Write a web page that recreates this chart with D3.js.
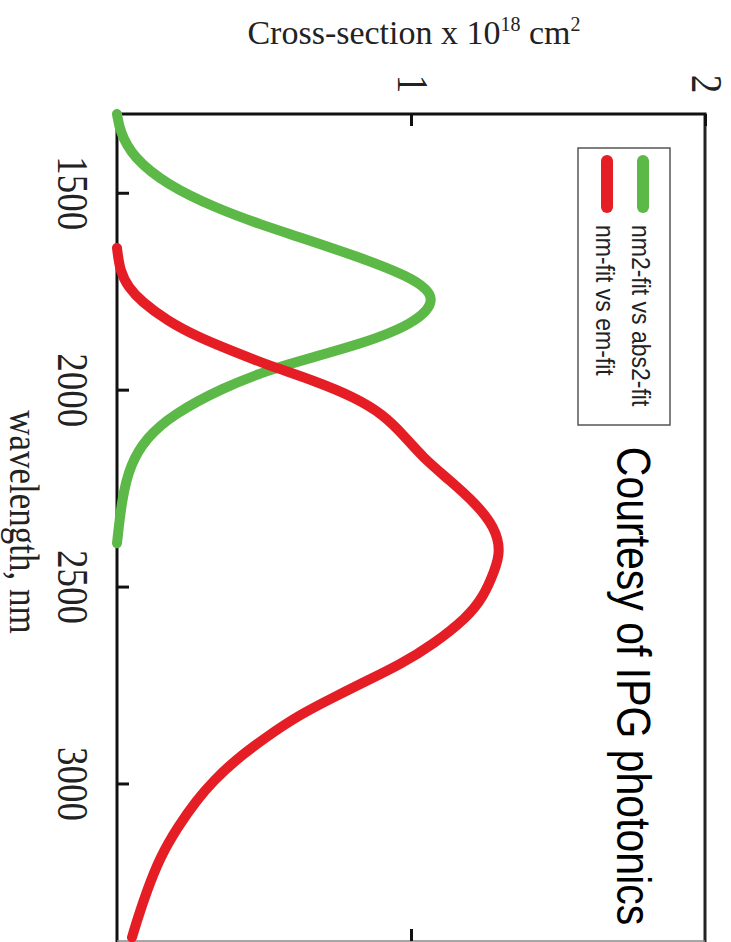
<!DOCTYPE html>
<html>
<head>
<meta charset="utf-8">
<script src="https://cdn.jsdelivr.net/npm/d3@7"></script>
<style>
  html, body { margin: 0; padding: 0; background: #fff; }
  svg { display: block; }
</style>
</head>
<body>
<svg id="chart" width="731" height="942"></svg>
<script>
// wavelength (nm) vs cross-section (x 10^18 cm^2)
var greenWl  = [1300, 1345, 1410, 1480, 1540, 1581, 1610, 1660, 1710, 1766, 1835, 1886, 1919, 1949, 1995, 2063, 2122, 2190, 2275, 2390];
var greenVal = [0, 0.01, 0.054, 0.17, 0.34, 0.49, 0.61, 0.81, 0.99, 1.10, 1.01, 0.82, 0.66, 0.52, 0.36, 0.19, 0.10, 0.045, 0.017, 0];

var redWl  = [1640, 1700, 1741, 1774, 1825, 1868, 1901, 1937, 1977, 2020, 2063, 2114, 2173, 2231, 2292, 2350, 2409, 2459, 2528, 2579, 2647, 2698, 2739, 2782, 2825, 2883, 2942, 2992, 3043, 3112, 3188, 3272, 3348, 3391];
var redVal = [0, 0.01, 0.04, 0.08, 0.17, 0.28, 0.39, 0.51, 0.67, 0.81, 0.905, 0.973, 1.041, 1.133, 1.224, 1.285, 1.305, 1.285, 1.245, 1.19, 1.075, 0.963, 0.85, 0.735, 0.622, 0.505, 0.40, 0.33, 0.27, 0.205, 0.146, 0.102, 0.068, 0.051];

var wlTicks = [1500, 2000, 2500, 3000];
var csTicks = [1, 2];
var seriesNames = ["nm2-fit vs abs2-fit", "nm-fit vs em-fit"];
var seriesColors = ["#5cb947", "#e51d25"];

(function () {
    var svg = d3.select("#chart");

    var pLeft = 117, pRight = 705, pTop = 114, pBottom = 941;
    var x = d3.scaleLinear().domain([0, 2]).range([pLeft, pRight]);
    var y = d3.scaleLinear().domain([1300, 3400]).range([pTop, pBottom]);

    // frame
    svg.append("line").attr("x1", pLeft).attr("x2", pLeft).attr("y1", pTop - 1.5).attr("y2", 942)
        .attr("stroke", "#111").attr("stroke-width", 3);
    svg.append("line").attr("x1", pLeft).attr("x2", pRight + 1.5).attr("y1", pTop).attr("y2", pTop)
        .attr("stroke", "#111").attr("stroke-width", 3);
    svg.append("line").attr("x1", pRight).attr("x2", pRight).attr("y1", pTop).attr("y2", 942)
        .attr("stroke", "#222").attr("stroke-width", 3);
    svg.append("line").attr("x1", pLeft).attr("x2", pRight).attr("y1", pBottom).attr("y2", pBottom)
        .attr("stroke", "#888").attr("stroke-width", 1.5);

    // wavelength axis (left, ticks inward)
    var yAxis = svg.append("g")
        .attr("transform", "translate(" + pLeft + ",0)")
        .call(d3.axisLeft(y).tickValues(wlTicks).tickSize(-12).tickSizeOuter(0).tickFormat(d3.format("d")));
    yAxis.select(".domain").remove();
    yAxis.selectAll(".tick line").attr("stroke", "#111").attr("stroke-width", 3);
    yAxis.selectAll(".tick text")
        .attr("x", null).attr("dy", null)
        .attr("text-anchor", "middle")
        .attr("fill", "#222")
        .attr("font-family", "'Liberation Serif', 'DejaVu Serif', serif")
        .attr("font-size", 37)
        .attr("transform", "translate(-59,0) rotate(90) scale(1,1.18)");

    // cross-section axis (top, ticks inward)
    var xAxis = svg.append("g")
        .attr("transform", "translate(0," + pTop + ")")
        .call(d3.axisTop(x).tickValues(csTicks).tickSize(-12).tickSizeOuter(0).tickFormat(d3.format("d")));
    xAxis.select(".domain").remove();
    xAxis.selectAll(".tick line").attr("stroke", "#111").attr("stroke-width", 3);
    xAxis.selectAll(".tick text")
        .attr("y", null).attr("dy", null)
        .attr("text-anchor", "middle")
        .attr("fill", "#222")
        .attr("font-family", "'Liberation Serif', 'DejaVu Serif', serif")
        .attr("font-size", 37)
        .attr("transform", "translate(-14,-30) rotate(90) scale(1,1.18)");

    var xAxisB = svg.append("g")
        .attr("transform", "translate(0," + pBottom + ")")
        .call(d3.axisBottom(x).tickValues([1]).tickSize(-12).tickSizeOuter(0).tickFormat(""));
    xAxisB.select(".domain").remove();
    xAxisB.selectAll(".tick line").attr("stroke", "#111").attr("stroke-width", 3);

    // curves
    var line = d3.line()
        .x(function (d) { return x(d.v); })
        .y(function (d) { return y(d.w); })
        .curve(d3.curveBasis);

    var series = [
        greenWl.map(function (w, i) { return { w: w, v: greenVal[i] }; }),
        redWl.map(function (w, i) { return { w: w, v: redVal[i] }; })
    ];

    svg.selectAll("path.curve")
        .data(series)
        .enter()
        .append("path")
        .attr("class", "curve")
        .attr("d", line)
        .attr("fill", "none")
        .attr("stroke", function (d, i) { return seriesColors[i]; })
        .attr("stroke-width", 10)
        .attr("stroke-linecap", "round")
        .attr("stroke-linejoin", "round");

    // legend
    svg.append("rect").attr("x", 578).attr("y", 148).attr("width", 92).attr("height", 277)
        .attr("fill", "#fff").attr("stroke", "#555").attr("stroke-width", 1.5);
    var legX = [643, 607];
    seriesNames.forEach(function (name, i) {
        svg.append("line").attr("x1", legX[i]).attr("x2", legX[i]).attr("y1", 161).attr("y2", 207)
            .attr("stroke", seriesColors[i]).attr("stroke-width", 12).attr("stroke-linecap", "round");
        svg.append("text")
            .attr("transform", "translate(" + (legX[i] - 11) + ",225) rotate(90) scale(1,1.15)")
            .attr("font-family", "'Liberation Sans', Arial, sans-serif")
            .attr("font-size", 23)
            .attr("fill", "#222")
            .text(name);
    });

    // titles
    var title = svg.append("text")
        .attr("x", 414).attr("y", 44)
        .attr("text-anchor", "middle")
        .attr("font-family", "'Liberation Serif', 'DejaVu Serif', serif")
        .attr("font-size", 34)
        .attr("fill", "#222");
    title.append("tspan").text("Cross-section x 10");
    title.append("tspan").attr("font-size", 20).attr("dy", -13).text("18");
    title.append("tspan").attr("dy", 13).text(" cm");
    title.append("tspan").attr("font-size", 20).attr("dy", -13).text("2");

    svg.append("text")
        .attr("transform", "translate(10,522) rotate(90) scale(1,1.18)")
        .attr("text-anchor", "middle")
        .attr("font-family", "'Liberation Serif', 'DejaVu Serif', serif")
        .attr("font-size", 35)
        .attr("fill", "#222")
        .text("wavelength, nm");

    svg.append("text")
        .attr("transform", "translate(617,686) rotate(90) scale(1,1.17)")
        .attr("text-anchor", "middle")
        .attr("font-family", "'Liberation Sans', Arial, sans-serif")
        .attr("font-size", 41)
        .attr("fill", "#000")
        .text("Courtesy of IPG photonics");
})();
</script>
</body>
</html>
